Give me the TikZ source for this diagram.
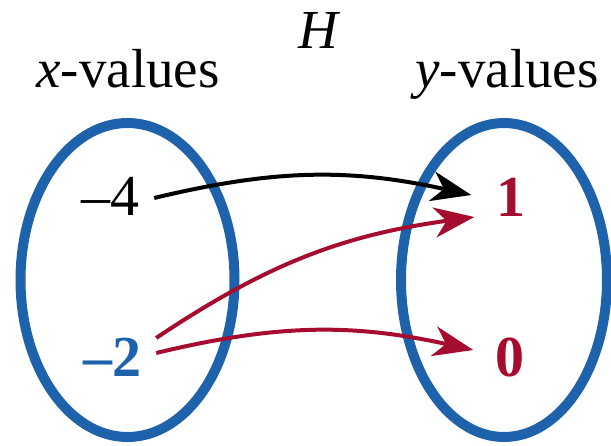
\documentclass[tikz,border=0pt]{standalone}
\usepackage{fontspec}
\setmainfont{Liberation Serif}
\usetikzlibrary{arrows.meta}
\definecolor{setblue}{RGB}{30,98,172}
\definecolor{mapred}{RGB}{165,12,45}
\tikzset{
  setoval/.style={draw=setblue, line width=10pt},
  lbl/.style={font=\fontsize{55}{64}\selectfont, inner sep=0pt},
  num/.style={font=\fontsize{58}{66}\selectfont, inner sep=0pt},
  maparrow/.style={line width=4pt, -{Stealth[length=40pt,width=30pt,inset=12pt]}},
}
\begin{document}
\begin{tikzpicture}[x=1pt,y=1pt]
\useasboundingbox (0,0) rectangle (611,445);
% sets
\draw[setoval] (127.5,165) ellipse [x radius=107, y radius=157];
\draw[setoval] (504,165) ellipse [x radius=103, y radius=157];
% labels
\node[lbl, anchor=base] (H) at (320,396) {\textit{H}};
\node[lbl, anchor=base] (xv) at (128,357) {\textit{x}-values};
\node[lbl, anchor=base] (yv) at (507,357) {\textit{y}-values};
% elements
\node[num] (n4) at (110,249) {–4};
\node[num, text=setblue] (n2) at (112,88) {\textbf{–2}};
\node[num, text=mapred] (n1) at (511,248) {\textbf{1}};
\node[num, text=mapred] (n0) at (510,88) {\textbf{0}};
% mapping
\draw[maparrow, black] ([shift={(15pt,-2pt)}]n4.east) to[bend left=13] ([shift={(-25pt,2pt)}]n1.west);
\draw[maparrow, mapred] ([shift={(15pt,19pt)}]n2.east) to[bend left=13] ([shift={(-22pt,-20pt)}]n1.west);
\draw[maparrow, mapred] ([shift={(15pt,4pt)}]n2.east) to[bend left=13] ([shift={(-22pt,7pt)}]n0.west);
\end{tikzpicture}
\end{document}
